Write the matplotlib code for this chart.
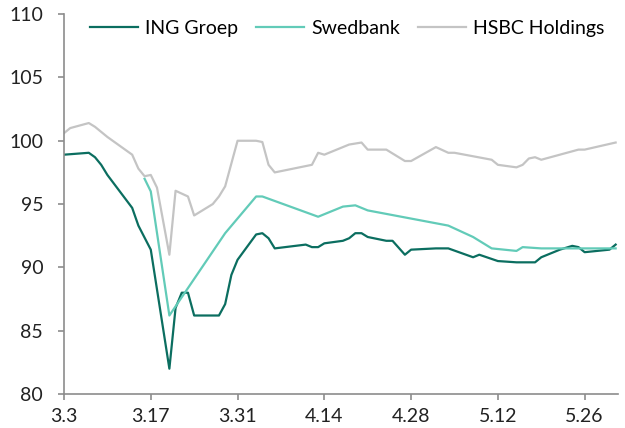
import matplotlib
matplotlib.use('Agg')
from matplotlib import pyplot as plt
import pandas as pd

# values (index, 2020)
ing_dates = ['03-03', '03-07', '03-08', '03-09', '03-10', '03-12', '03-14', '03-15', '03-17',
             '03-20', '03-21', '03-22', '03-23', '03-24', '03-28', '03-29', '03-30', '03-31',
             '04-03', '04-04', '04-05', '04-06', '04-11', '04-12', '04-13', '04-14', '04-17',
             '04-18', '04-19', '04-20', '04-21', '04-24', '04-25', '04-27', '04-28', '05-02',
             '05-04', '05-08', '05-09', '05-12', '05-15', '05-18', '05-19', '05-22', '05-24',
             '05-25', '05-26', '05-30', '05-31']
ing_vals = [98.9, 99.05, 98.7, 98.1, 97.3, 96.0, 94.7, 93.3, 91.4,
            82.0, 86.8, 88.0, 88.0, 86.2, 86.2, 87.1, 89.4, 90.6,
            92.6, 92.7, 92.3, 91.5, 91.8, 91.6, 91.6, 91.9, 92.1,
            92.3, 92.7, 92.7, 92.4, 92.1, 92.1, 91.0, 91.4, 91.5,
            91.5, 90.8, 91.0, 90.5, 90.4, 90.4, 90.8, 91.4, 91.7,
            91.6, 91.2, 91.4, 91.8]

swed_dates = ['03-16', '03-17', '03-20', '03-29', '04-03', '04-04', '04-13', '04-17', '04-19',
              '04-21', '05-04', '05-08', '05-11', '05-15', '05-16', '05-19', '05-31']
swed_vals = [97.0, 96.0, 86.2, 92.7, 95.6, 95.6, 94.0, 94.8, 94.9,
             94.5, 93.3, 92.4, 91.5, 91.3, 91.6, 91.5, 91.5]

hsbc_dates = ['03-03', '03-04', '03-07', '03-08', '03-10', '03-14', '03-15', '03-16', '03-17',
              '03-18', '03-20', '03-21', '03-23', '03-24', '03-27', '03-28', '03-29', '03-30',
              '03-31', '04-03', '04-04', '04-05', '04-06', '04-12', '04-13', '04-14', '04-18',
              '04-20', '04-21', '04-24', '04-27', '04-28', '05-02', '05-04', '05-05', '05-11',
              '05-12', '05-15', '05-16', '05-17', '05-18', '05-19', '05-25', '05-26', '05-31']
hsbc_vals = [100.6, 101.0, 101.4, 101.1, 100.3, 98.9, 97.8, 97.2, 97.3,
             96.3, 91.0, 96.05, 95.6, 94.1, 95.0, 95.6, 96.4, 98.2,
             100.0, 100.0, 99.9, 98.1, 97.5, 98.1, 99.05, 98.9, 99.7,
             99.86, 99.3, 99.3, 98.4, 98.4, 99.5, 99.05, 99.05, 98.5,
             98.1, 97.9, 98.1, 98.6, 98.7, 98.5, 99.3, 99.3, 99.86]

tick_dates = ['03-03', '03-17', '03-31', '04-14', '04-28', '05-12', '05-26']
tick_labels = ['3.3', '3.17', '3.31', '4.14', '4.28', '5.12', '5.26']

start = pd.Timestamp('2020-03-03')


def days(d):
    return [(pd.Timestamp('2020-' + s) - start).days for s in d]


plt.rcParams['font.family'] = ['Lato', 'DejaVu Sans']
fig = plt.figure(figsize=(6.25, 4.28), dpi=100)
ax = fig.add_axes([0.1024, 0.0794, 0.8866, 0.8876])

ax.plot(days(ing_dates), ing_vals, color='#0b6e60', lw=1.6, label='ING Groep')
ax.plot(days(swed_dates), swed_vals, color='#62cbb8', lw=1.6, label='Swedbank')
ax.plot(days(hsbc_dates), hsbc_vals, color='#c4c4c4', lw=1.6, label='HSBC Holdings')

ax.set_xlim(0, 89.4)
ax.set_ylim(80, 110)
ax.set_yticks(range(80, 111, 5))
ax.set_xticks(days(tick_dates))
ax.set_xticklabels(tick_labels)

for s in ['top', 'right']:
    ax.spines[s].set_visible(False)
for s in ['left', 'bottom']:
    ax.spines[s].set_color('#8c8c8c')
    ax.spines[s].set_linewidth(1.2)
ax.tick_params(colors='#8c8c8c', labelcolor='#222222', labelsize=14, length=4, width=1.2)
ax.tick_params(axis='y', pad=11)
ax.tick_params(axis='x', pad=6)

ax.legend(loc='upper left', bbox_to_anchor=(0.015, 1.03), ncol=3, frameon=False,
          fontsize=14, handlelength=2.5, columnspacing=0.9, handletextpad=0.35)

plt.savefig('out.png', dpi=100)
